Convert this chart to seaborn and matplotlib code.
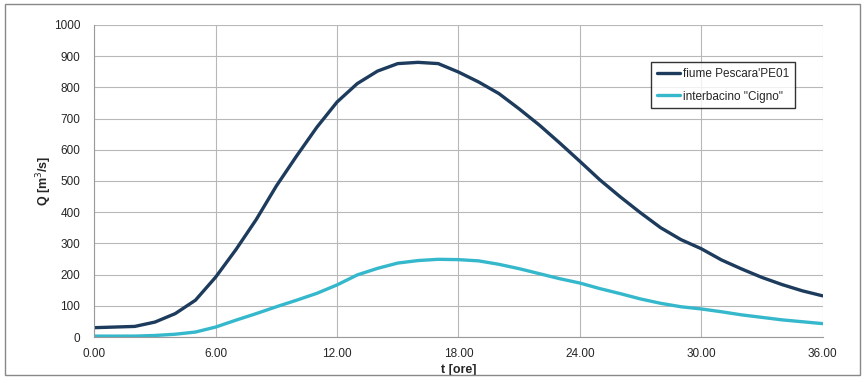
import matplotlib
matplotlib.use("Agg")
import matplotlib.pyplot as plt
import seaborn as sns
import pandas as pd
from matplotlib.patches import Rectangle

hours = list(range(0, 37))
pescara = [30, 32, 34, 48, 75, 118, 192, 280, 376, 484, 580, 672, 753, 812, 852, 876, 880,
           876, 849, 817, 780, 731, 679, 622, 563, 503, 449, 398, 350, 312, 283, 247, 218,
           191, 168, 148, 132]
cigno = [3, 3, 3, 5, 9, 16, 32, 54, 75, 97, 118, 140, 167, 199, 220, 237, 245,
         249, 248, 244, 233, 219, 203, 187, 173, 155, 139, 122, 108, 97, 90, 81, 71,
         63, 55, 49, 43]
series_names = ["fiume Pescara'PE01", 'interbacino "Cigno"']
xticks = [0, 6, 12, 18, 24, 30, 36]
xticklabels = ["0.00", "6.00", "12.00", "18.00", "24.00", "30.00", "36.00"]
yticks = list(range(0, 1001, 100))

df = pd.concat([
    pd.DataFrame({"t": hours, "Q": pescara, "serie": series_names[0]}),
    pd.DataFrame({"t": hours, "Q": cigno, "serie": series_names[1]}),
])

sns.set_style("white")
plt.rcParams["font.family"] = ["Liberation Sans", "DejaVu Sans"]

fig = plt.figure(figsize=(8.65, 3.83), dpi=100)
ax = fig.add_axes([0.109, 0.12, 0.842, 0.815])
fig.patches.append(Rectangle((0.006, 0.02), 0.988, 0.97, transform=fig.transFigure,
                             fill=False, edgecolor="#888888", linewidth=1))

sns.lineplot(data=df, x="t", y="Q", hue="serie", hue_order=series_names,
             palette=["#1d3b5c", "#35b8cc"], linewidth=2.4, ax=ax)
for ln in ax.lines:
    ln.set_solid_joinstyle("round")
    ln.set_solid_capstyle("round")

ax.set_xlim(0, 36)
ax.set_ylim(0, 1000)
ax.set_xticks(xticks)
ax.set_xticklabels(xticklabels)
ax.set_yticks(yticks)
ax.grid(True, color="#b8b8b8", linewidth=0.8)
ax.tick_params(labelsize=8.5, length=0)
ax.tick_params(axis="x", pad=8)
ax.tick_params(axis="y", pad=10)
for s in ["top", "right"]:
    ax.spines[s].set_visible(False)
ax.spines["left"].set_color("#999999")
ax.spines["bottom"].set_color("#999999")
ax.set_xlabel("t [ore]", fontsize=9, fontweight="bold", labelpad=3)
ax.set_ylabel("Q [m$^3$/s]", fontsize=9, fontweight="bold", labelpad=0)

leg = ax.legend(loc="upper right", bbox_to_anchor=(0.97, 0.9), fontsize=8.5,
                frameon=True, fancybox=False, edgecolor="black", handlelength=2.0,
                handletextpad=0.2, labelspacing=0.9, borderpad=0.5)
leg.get_frame().set_linewidth(1)

fig.savefig("out.png", dpi=100)
